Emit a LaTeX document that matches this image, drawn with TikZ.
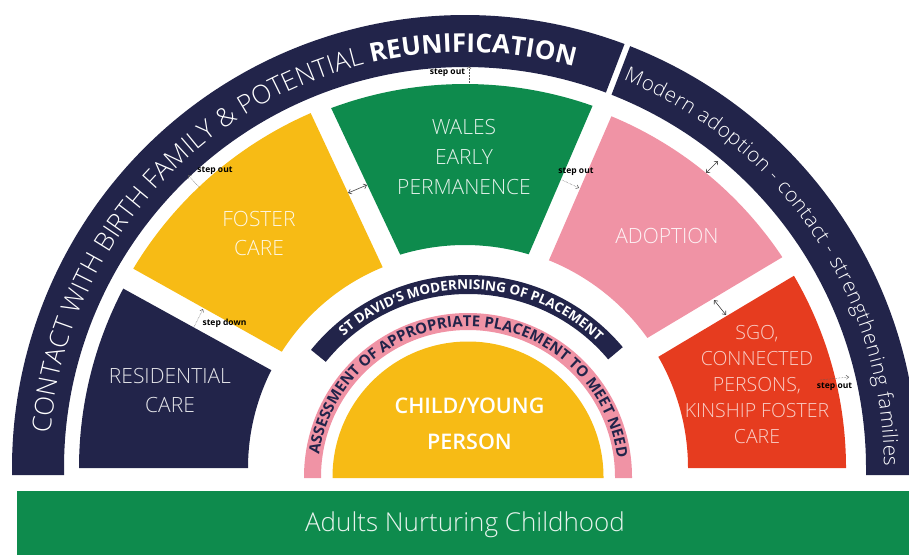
\documentclass[tikz,border=0pt]{standalone}
\usepackage{fontspec}
\setmainfont{Open Sans}
\IfFontExistsTF{Open Sans Light}{\newfontfamily\lightf{Open Sans Light}}{\newfontfamily\lightf{Open Sans}}
\IfFontExistsTF{Open Sans Semibold}{\newfontfamily\semif{Open Sans Semibold}}{%
  \IfFontExistsTF{Open Sans SemiBold}{\newfontfamily\semif{Open Sans SemiBold}}{\newcommand\semif{\normalfont}}}
\newcommand\boldf{\normalfont\bfseries}
\usetikzlibrary{decorations.text,calc,arrows.meta}
\definecolor{navy}{HTML}{22244A}
\definecolor{sunny}{HTML}{F7BB15}
\definecolor{leaf}{HTML}{0E8B4D}
\definecolor{rose}{HTML}{F093A5}
\definecolor{flame}{HTML}{E63C1F}
% segment: colour, r in, r out, outer start, outer end, inner start, inner end
\newcommand\ringseg[7]{%
  \fill[#1] ($(O)+(#4:#3)$) arc[start angle=#4, end angle=#5, radius=#3]
    -- ($(O)+(#6:#2)$) arc[start angle=#6, end angle=#7, radius=#2] -- cycle;}
\tikzset{
  seglabel/.style={font=\lightf\fontsize{21}{29}\selectfont, text=white, text opacity=0.88, align=center, inner sep=0pt},
  steplabel/.style={font=\boldf\fontsize{8.5}{8.5}\selectfont, text=black, inner sep=0pt},
  steparrow/.style={-{Straight Barb[length=2.5pt,width=4pt]}, line width=0.5pt, draw=black!65, densely dotted},
  twoarrow/.style={{Straight Barb[length=3pt,width=5pt]}-{Straight Barb[length=3pt,width=5pt]}, line width=0.6pt, draw=black!75}
}
\begin{document}
\begin{tikzpicture}[x=1pt,y=1pt]
\useasboundingbox (0,0) rectangle (909,555);
\coordinate (O) at (465,87);
\coordinate (P) at (468,78);

% outer ring
\fill[navy] ($(O)+(-453,-7)$) -- ($(O)+(180:453)$) arc[start angle=180,end angle=69.38,radius=453]
  -- ($(O)+(69.43:401)$) arc[start angle=69.43,end angle=180,radius=401] -- ($(O)+(-401,-7)$) -- cycle;
\fill[navy] ($(O)+(68.62:453)$) arc[start angle=68.62,end angle=0,radius=453] -- ($(O)+(453,-7)$)
  -- ($(O)+(401,-7)$) -- ($(O)+(0:401)$) arc[start angle=0,end angle=68.57,radius=401] -- cycle;

% middle segments
\ringseg{navy}{217}{386}{180}{152.3}{153.2}{180}
\ringseg{sunny}{217}{387}{149}{113.5}{112.3}{147.6}
\ringseg{leaf}{223}{384}{110.4}{70.6}{73.4}{106.9}
\ringseg{rose}{224}{381}{67.4}{33.6}{35.5}{68}
\ringseg{flame}{223}{381}{30.3}{0}{0}{29.9}

% inner rings
\fill[rose] ($(P)+(-164,-1)$) -- ($(P)+(180:164)$) arc[start angle=180,end angle=0,radius=164] -- ($(P)+(164,-1)$)
  -- ($(P)+(147,-1)$) -- ($(P)+(0:147)$) arc[start angle=0,end angle=180,radius=147] -- ($(P)+(-147,-1)$) -- cycle;
\fill[sunny] ($(P)+(-135.5,-1)$) -- ($(P)+(180:135.5)$) arc[start angle=180,end angle=0,radius=135.5] -- ($(P)+(135.5,-1)$) -- cycle;
\fill[navy] ($(P)+(141:183)$) -- ($(P)+(141:202)$) arc[start angle=141,end angle=40,radius=202]
  -- ($(P)+(40:183)$) arc[start angle=40,end angle=141,radius=183] -- cycle;

% bottom bar
\fill[leaf] (17,0) rectangle (909,64);
\node[font=\lightf\fontsize{26}{26}\selectfont, text=white, text opacity=0.9, inner sep=0pt, text height=18.5pt, text depth=0pt] (bar) at (465,33) {Adults Nurturing Childhood};

% curved texts
\path[decorate, decoration={text along path, text align={fit to path},
  text={|\lightf\fontsize{26}{26}\selectfont\color{white}|CONTACT WITH BIRTH FAMILY {\&} POTENTIAL |\boldf\fontsize{26}{26}\selectfont\color{white}|REUNIFICATION}}]
  ($(O)+(175.2:416)$) arc[start angle=175.2, end angle=74.8, radius=416];
\path[decorate, decoration={text along path, text align={fit to path},
  text={|\lightf\fontsize{20.5}{20.5}\selectfont\color{white}|Modern adoption - contact - strengthening families}}]
  ($(O)+(67.8:419)$) arc[start angle=67.8, end angle=0.3, radius=419];
\path[decorate, decoration={text along path, text align={fit to path},
  text={|\boldf\fontsize{13.5}{13.5}\selectfont\color{white}|ST DAVID'S MODERNISING OF PLACEMENT}}]
  ($(P)+(131.5:187.5)$) arc[start angle=131.5, end angle=47, radius=187.5];
\path[decorate, decoration={text along path, text align={fit to path},
  text={|\boldf\fontsize{15}{15}\selectfont\color{navy}|ASSESSMENT OF APPROPRIATE PLACEMENT TO MEET NEED}}]
  ($(P)+(171.5:150.5)$) arc[start angle=171.5, end angle=9, radius=150.5];

% segment labels
\node[seglabel] (res) at (170,164.5) {RESIDENTIAL\\CARE};
\node[seglabel] (fos) at (259,321.5) {FOSTER\\CARE};
\node[seglabel, font=\lightf\fontsize{21}{30}\selectfont] (wal) at (464,398) {WALES\\EARLY\\PERMANENCE};
\node[seglabel, text height=15pt, text depth=0pt] (ado) at (667,319) {ADOPTION};
\node[seglabel, font=\lightf\fontsize{19.5}{26.2}\selectfont, text opacity=0.75] (sgo) at (757,170.5) {SGO,\\CONNECTED\\PERSONS,\\KINSHIP FOSTER\\CARE};
\node[seglabel, font=\semif\fontsize{21.5}{36}\selectfont, text opacity=1] (kid) at (469.5,131) {CHILD/YOUNG\\PERSON};

% step labels
\node[steplabel] (so1) at (447.5,482) {step out};
\node[steplabel] (so2) at (215,384) {step out};
\node[steplabel] (sd) at (224.5,232) {step down};
\node[steplabel] (so3) at (576,383) {step out};
\node[steplabel] (so4) at (834.5,168) {step out};

% arrows
\coordinate (a1s) at (469,472); \coordinate (a1e) at (469,489);
\coordinate (a2s) at (200,367); \coordinate (a2e) at (188,380);
\coordinate (a3s) at (194,228); \coordinate (a3e) at (203,246);
\coordinate (a4s) at (348,362); \coordinate (a4e) at (367,370);
\coordinate (a5s) at (562,375); \coordinate (a5e) at (579,367);
\coordinate (a6s) at (706,382); \coordinate (a6e) at (718,394);
\coordinate (a7s) at (714,255); \coordinate (a7e) at (726,240);
\coordinate (a8s) at (820,175); \coordinate (a8e) at (849,178);
\draw[steparrow] (a1s) -- (a1e);
\draw[steparrow] (a2s) -- (a2e);
\draw[steparrow] (a3s) -- (a3e);
\draw[twoarrow] (a4s) -- (a4e);
\draw[steparrow] (a5s) -- (a5e);
\draw[twoarrow] (a6s) -- (a6e);
\draw[twoarrow] (a7s) -- (a7e);
\draw[steparrow] (a8s) -- (a8e);
\end{tikzpicture}
\end{document}
